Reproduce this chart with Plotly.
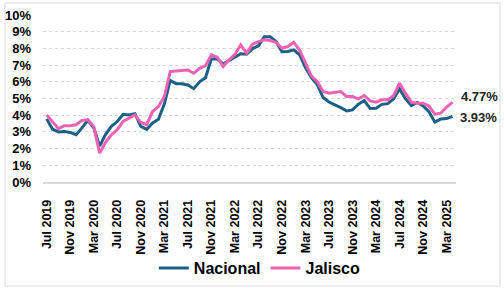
import plotly.graph_objects as go

months = ["Jan", "Feb", "Mar", "Apr", "May", "Jun", "Jul", "Aug", "Sep", "Oct", "Nov", "Dec"]
# Jul 2019 .. Apr 2025 (monthly)
categories = []
y, m = 2019, 6
while (y, m) <= (2025, 3):
    categories.append(f"{months[m]} {y}")
    m += 1
    if m == 12:
        m = 0
        y += 1

nacional = [
    3.78, 3.16, 3.00, 3.02, 2.97, 2.83,
    3.24, 3.70, 3.25, 2.15, 2.84, 3.33, 3.62, 4.05, 4.01, 4.09, 3.33, 3.15,
    3.54, 3.76, 4.67, 6.08, 5.89, 5.88, 5.81, 5.59, 6.00, 6.24, 7.37, 7.36,
    7.07, 7.28, 7.45, 7.68, 7.65, 7.99, 8.15, 8.70, 8.70, 8.41, 7.80, 7.82,
    7.91, 7.62, 6.85, 6.25, 5.84, 5.06, 4.79, 4.64, 4.45, 4.26, 4.32, 4.66,
    4.88, 4.40, 4.42, 4.65, 4.69, 4.98, 5.57, 4.99, 4.58, 4.76, 4.55, 4.21,
    3.59, 3.77, 3.80, 3.93,
]
jalisco = [
    4.02, 3.63, 3.19, 3.37, 3.37, 3.43,
    3.69, 3.73, 3.33, 1.73, 2.37, 2.83, 3.13, 3.63, 3.82, 4.02, 3.57, 3.43,
    4.22, 4.52, 5.12, 6.61, 6.65, 6.67, 6.71, 6.51, 6.81, 6.97, 7.61, 7.47,
    6.91, 7.31, 7.65, 8.21, 7.71, 8.25, 8.41, 8.51, 8.47, 8.37, 8.01, 8.11,
    8.37, 7.91, 7.11, 6.35, 6.02, 5.42, 5.32, 5.36, 5.42, 5.12, 5.12, 4.98,
    5.18, 4.86, 4.78, 4.92, 4.92, 5.18, 5.92, 5.32, 4.78, 4.72, 4.72, 4.55,
    4.06, 4.12, 4.48, 4.77,
]
tick_labels = categories[::4]
y_ticks = list(range(0, 11))

FONT = "Liberation Sans, Arial, sans-serif"
C_NAC = "#1A6185"
C_JAL = "#EE62B4"

fig = go.Figure()
fig.add_trace(go.Scatter(x=categories, y=nacional, mode="lines", name="<b>Nacional</b>",
                         line=dict(color=C_NAC, width=3)))
fig.add_trace(go.Scatter(x=categories, y=jalisco, mode="lines", name="<b>Jalisco</b>",
                         line=dict(color=C_JAL, width=3)))

fig.add_annotation(x=categories[-1], y=jalisco[-1], text="<b>4.77%</b>", showarrow=False,
                   xanchor="left", yanchor="middle", xshift=7, yshift=6,
                   font=dict(family=FONT, size=13, color="#222222"))
fig.add_annotation(x=categories[-1], y=nacional[-1], text="<b>3.93%</b>", showarrow=False,
                   xanchor="left", yanchor="middle", xshift=6, yshift=-1,
                   font=dict(family=FONT, size=13, color="#222222"))

fig.add_shape(type="rect", xref="paper", yref="paper",
              x0=-38 / 413, x1=457 / 413, y0=-104 / 167, y1=(182 - 3) / 167,
              line=dict(color="#D9D9D9", width=1), fillcolor="rgba(0,0,0,0)", layer="below")

fig.update_layout(
    width=504, height=288,
    margin=dict(l=43, r=48, t=15, b=106),
    paper_bgcolor="white", plot_bgcolor="white",
    font=dict(family=FONT, color="#000000"),
    showlegend=True,
    legend=dict(orientation="h", x=0.525, xanchor="center",
                yref="container", y=20 / 288, yanchor="middle",
                font=dict(family=FONT, size=16, color="#000000"),
                itemwidth=30, bgcolor="rgba(0,0,0,0)", traceorder="normal"),
    xaxis=dict(type="category", range=[-0.63, 69.6],
               tickmode="array", tickvals=tick_labels, ticktext=[f"<b>{t}</b>" for t in tick_labels],
               tickangle=-90, tickfont=dict(family=FONT, size=12.5, color="#000000"),
               showgrid=False, showline=True, linecolor="#D9D9D9", linewidth=1.5,
               ticks="", ticklen=0, zeroline=False, automargin=False, ticklabelstandoff=11),
    yaxis=dict(range=[0, 10], tickmode="array", tickvals=y_ticks,
               ticktext=[f"<b>{v}%</b>" for v in y_ticks],
               tickfont=dict(family=FONT, size=13, color="#000000"),
               showgrid=True, gridcolor="#D9D9D9", griddash="dot", gridwidth=1,
               zeroline=False, showline=False, ticks="", ticklabelstandoff=11,
               automargin=False),
)

fig.write_html("out.html", config={"displayModeBar": False},
               post_script="document.body.style.margin='0';")
